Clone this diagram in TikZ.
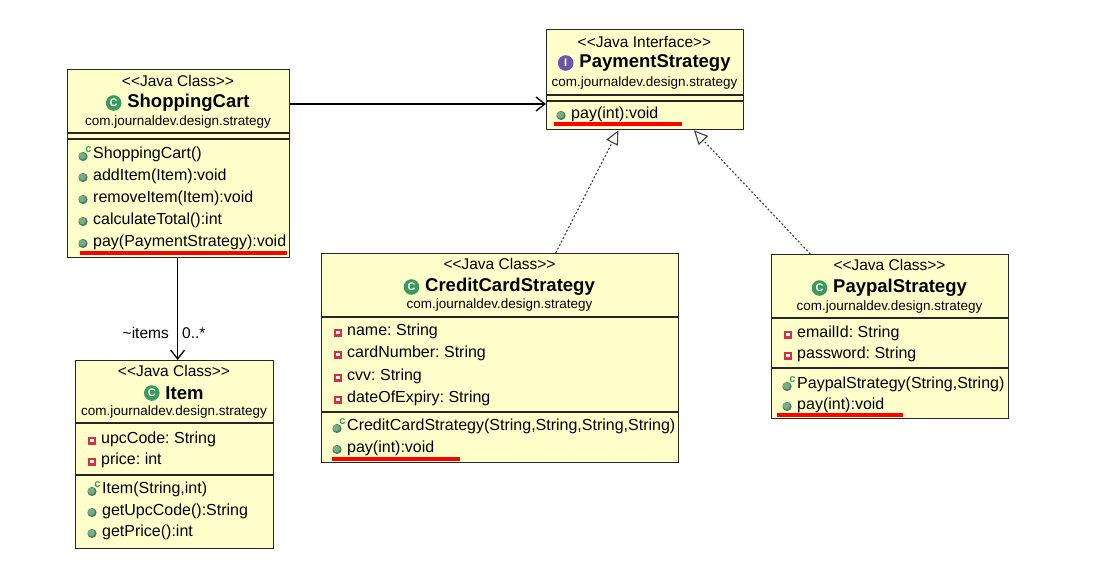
\documentclass[tikz,border=0pt]{standalone}
\usepackage{fontspec}
\setmainfont{Liberation Sans}
\usetikzlibrary{arrows.meta,calc}
\frenchspacing
\definecolor{boxfill}{HTML}{FFFFCC}
\definecolor{cgreen}{HTML}{3A9A5C}
\definecolor{mgreen}{HTML}{5E9E74}
\definecolor{ipurple}{HTML}{6A56A8}
\definecolor{fred}{HTML}{D6303E}
\definecolor{uline}{HTML}{FF0000}
\newcommand{\ster}[1]{{<}{<}#1{>}{>}}
\tikzset{
  umlbox/.style={draw=black!85,line width=1.3pt,fill=boxfill,anchor=north west,inner sep=0pt},
  sepline/.style={draw=black!85,line width=1.3pt},
  stereo/.style={inner sep=0pt,font=\fontsize{15.5}{17}\selectfont},
  ttl/.style={inner sep=0pt,font=\bfseries\fontsize{18.5}{20}\selectfont},
  pkg/.style={inner sep=0pt,font=\fontsize{13.5}{15}\selectfont},
  member/.style={inner sep=0pt,anchor=west,font=\fontsize{16}{17}\selectfont,text height=11pt,text depth=3.5pt},
  lbl/.style={inner sep=0pt,font=\fontsize{15.5}{17}\selectfont,text height=11pt,text depth=3.5pt},
  redmark/.style={draw=uline,line width=4pt},
  assoc/.style={draw=black,line width=1.3pt,-{Straight Barb[length=9pt,width=14pt,line width=1.3pt]}},
  realize/.style={draw=black!75,line width=1.1pt,dash pattern=on 2pt off 2pt,-{Triangle[open,length=14pt,width=13pt,fill=white,line width=1.1pt]}},
  iconletter/.style={inner sep=0pt,text=white,font=\bfseries\fontsize{11}{11}\selectfont}
}
\newcommand{\umlicon}[4]{\fill[#3] (#1) circle (7.8pt); \node[iconletter] (#4) at (#1) {#2};}
\newcommand{\meth}[4]{\fill[mgreen!80!black] (#2,#3+2.5) circle (4.6pt); \fill[mgreen!85!white] (#2-0.6,#3+1.9) circle (3.4pt); \node[member] (#1) at (#2+10,#3+2) {#4};}
\newcommand{\ctor}[4]{\fill[mgreen!80!black] (#2,#3+3.5) circle (4.6pt); \fill[mgreen!85!white] (#2-0.6,#3+2.9) circle (3.4pt); \node[inner sep=0pt,text=cgreen,font=\bfseries\fontsize{11}{11}\selectfont] (#1c) at (#2+5.5,#3-3.5) {c}; \node[member] (#1) at (#2+10,#3+2) {#4};}
\newcommand{\fld}[4]{\fill[fred] (#2-4,#3-1.5) rectangle (#2+4,#3+6.5); \fill[white] (#2-1.7,#3+0.8) rectangle (#2+1.7,#3+4.2); \node[member] (#1) at (#2+9,#3+2) {#4};}
\begin{document}
\begin{tikzpicture}[x=1pt,y=-1pt]
\useasboundingbox[fill=white] (0,0) rectangle (1107,571);

% ---------- ShoppingCart ----------
\node[umlbox,minimum width=222pt,minimum height=188pt] (cart) at (67,69) {};
\node[stereo] (cartS) at (178,81) {\ster{Java Class}};
\node[ttl] (cartT) at (178,103) {\hspace*{21pt}ShoppingCart};
\umlicon{$(cartT.west)+(7.5,0)$}{C}{cgreen}{cartI}
\node[pkg] (cartP) at (178,122) {com.journaldev.design.strategy};
\draw[sepline] (67,133) -- (289,133);
\draw[sepline] (67,139) -- (289,139);
\ctor{cm1}{83}{153}{ShoppingCart()}
\meth{cm2}{83}{175}{addItem(Item):void}
\meth{cm3}{83}{197}{removeItem(Item):void}
\meth{cm4}{83}{219}{calculateTotal():int}
\meth{cm5}{83}{241}{pay(PaymentStrategy):void}
\draw[redmark] (80,253) -- (287,253);

% ---------- PaymentStrategy ----------
\node[umlbox,minimum width=197pt,minimum height=100pt] (pay) at (546,29) {};
\node[stereo] (payS) at (644.5,42) {\ster{Java Interface}};
\node[ttl] (payT) at (644.5,63) {\hspace*{21pt}PaymentStrategy};
\umlicon{$(payT.west)+(7.5,0)$}{I}{ipurple}{payI}
\node[pkg] (payP) at (644.5,83) {com.journaldev.design.strategy};
\draw[sepline] (546,95) -- (743,95);
\draw[sepline] (546,101) -- (743,101);
\meth{pm1}{561}{113}{pay(int):void}
\draw[redmark] (554,124) -- (682,124);

% ---------- CreditCardStrategy ----------
\node[umlbox,minimum width=357pt,minimum height=209pt] (credit) at (321,253) {};
\node[stereo] (crS) at (499.5,264) {\ster{Java Class}};
\node[ttl] (crT) at (499.5,287) {\hspace*{21pt}CreditCardStrategy};
\umlicon{$(crT.west)+(7.5,0)$}{C}{cgreen}{crI}
\node[pkg] (crP) at (499.5,305) {com.journaldev.design.strategy};
\draw[sepline] (321,317) -- (678,317);
\fld{cf1}{338}{330}{name: String}
\fld{cf2}{338}{352}{cardNumber: String}
\fld{cf3}{338}{375}{cvv: String}
\fld{cf4}{338}{397}{dateOfExpiry: String}
\draw[sepline] (321,412) -- (678,412);
\ctor{crm1}{337}{425}{CreditCardStrategy(String,String,String,String)}
\meth{crm2}{337}{447}{pay(int):void}
\draw[redmark] (332,459) -- (460,459);

% ---------- PaypalStrategy ----------
\node[umlbox,minimum width=237pt,minimum height=164pt] (paypal) at (771,254) {};
\node[stereo] (ppS) at (889.5,265) {\ster{Java Class}};
\node[ttl] (ppT) at (889.5,288) {\hspace*{21pt}PaypalStrategy};
\umlicon{$(ppT.west)+(7.5,0)$}{C}{cgreen}{ppI}
\node[pkg] (ppP) at (889.5,307) {com.journaldev.design.strategy};
\draw[sepline] (771,318) -- (1008,318);
\fld{pf1}{788}{332}{emailId: String}
\fld{pf2}{788}{353}{password: String}
\draw[sepline] (771,368) -- (1008,368);
\ctor{ppm1}{787}{383}{PaypalStrategy(String,String)}
\meth{ppm2}{787}{404}{pay(int):void}
\draw[redmark] (777,415) -- (903,415);

% ---------- Item ----------
\node[umlbox,minimum width=198pt,minimum height=188pt] (item) at (75,360) {};
\node[stereo] (itS) at (174,371) {\ster{Java Class}};
\node[ttl] (itT) at (174,393) {\hspace*{21pt}Item};
\umlicon{$(itT.west)+(7.5,0)$}{C}{cgreen}{itI}
\node[pkg] (itP) at (174,412) {com.journaldev.design.strategy};
\draw[sepline] (75,423) -- (273,423);
\fld{if1}{92}{438}{upcCode: String}
\fld{if2}{92}{459}{price: int}
\draw[sepline] (75,475) -- (273,475);
\ctor{im1}{92}{488}{Item(String,int)}
\meth{im2}{92}{510}{getUpcCode():String}
\meth{im3}{92}{531}{getPrice():int}

% ---------- connectors ----------
\coordinate (a1) at ([yshift=-35pt]cart.north east);
\draw[assoc] (a1) -- (a1 -| pay.west);
\coordinate (a2) at ([xshift=-1pt]cart.south);
\draw[assoc] (a2) -- (a2 |- item.north);
\node[lbl,anchor=east] (itemsL) at (169,335) {\textasciitilde items};
\node[lbl,anchor=west] (multL) at (182,335) {0..*};
\draw[realize] ($(credit.north west)!0.655!(credit.north east)$) -- ($(pay.south west)!0.365!(pay.south east)$);
\draw[realize] ($(paypal.north west)!0.165!(paypal.north east)$) -- ($(pay.south west)!0.746!(pay.south east)$);
\end{tikzpicture}
\end{document}
